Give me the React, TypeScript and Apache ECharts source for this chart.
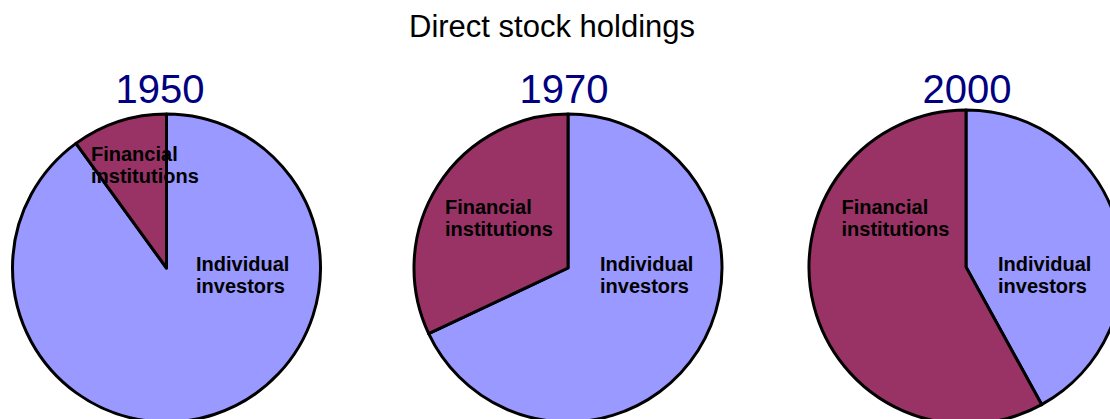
import React, { useEffect, useRef } from "react";
import * as echarts from "echarts";

const chartTitle = "Direct stock holdings";
const years = ["1950", "1970", "2000"];
const categories = ["Individual investors", "Financial institutions"];
const individualShare = [90, 68, 42];
const financialShare = [10, 32, 58];
const sliceColors = ["#9999FF", "#993366"];

const pieCenters: [number, number][] = [
  [166.5, 268],
  [568, 268],
  [966, 267],
];
const pieRadii = [154, 154, 157];
const yearLabelX = [160, 564, 967];
const finLabelPos: [number, number][] = [
  [91, 164.5],
  [445, 217.5],
  [841.5, 217.5],
];
const indLabelPos: [number, number][] = [
  [196, 275],
  [600, 275],
  [998, 275],
];

const FONT = "'Liberation Sans', Arial, Helvetica, sans-serif";

export default function App() {
  const ref = useRef<HTMLDivElement>(null);
  useEffect(() => {
    if (!ref.current) return;
    const chart = echarts.init(ref.current, null, { renderer: "svg" });
    const labelText = (s: string) => s.replace(" ", "\n");
    const graphics: any[] = [];
    const mk = (text: string, pos: [number, number]) => ({
      type: "text",
      x: pos[0],
      y: pos[1],
      z: 100,
      style: {
        text,
        fontSize: 20,
        fontWeight: "bold",
        fontFamily: FONT,
        lineHeight: 22,
        fill: "#000",
        align: "left",
        verticalAlign: "middle",
      },
    });
    years.forEach((_, i) => {
      graphics.push(mk(labelText(categories[1]), finLabelPos[i]));
      graphics.push(mk(labelText(categories[0]), indLabelPos[i]));
    });
    chart.setOption({
      animation: false,
      backgroundColor: "#fff",
      title: [
        {
          text: chartTitle,
          left: 552,
          top: 11,
          textAlign: "center",
          padding: 0,
          textStyle: { fontSize: 31, fontWeight: "normal", color: "#000", fontFamily: FONT },
        },
        ...years.map((y, i) => ({
          text: y,
          left: yearLabelX[i],
          top: 69,
          textAlign: "center",
          padding: 0,
          textStyle: { fontSize: 40, fontWeight: "normal", color: "#000080", fontFamily: FONT },
        })),
      ],
      series: years.map((y, i) => ({
        type: "pie",
        name: y,
        center: pieCenters[i],
        radius: pieRadii[i],
        startAngle: 90,
        clockwise: true,
        silent: true,
        label: { show: false },
        labelLine: { show: false },
        itemStyle: { borderColor: "#000", borderWidth: 3 },
        data: [
          { name: categories[0], value: individualShare[i], itemStyle: { color: sliceColors[0] } },
          { name: categories[1], value: financialShare[i], itemStyle: { color: sliceColors[1] } },
        ],
      })),
      graphic: graphics,
    });
    return () => chart.dispose();
  }, []);
  return <div ref={ref} style={{ width: 1110, height: 419, position: "absolute", left: 0, top: 0 }} />;
}
